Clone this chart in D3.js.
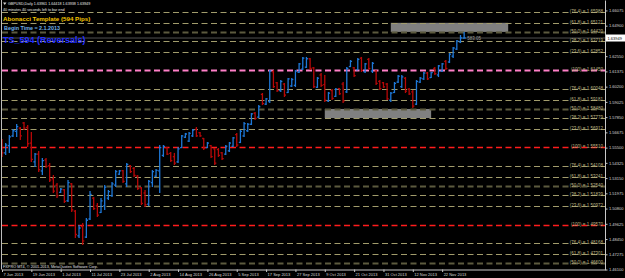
<!DOCTYPE html>
<html>
<head>
<meta charset="utf-8">
<title>GBPUSD Daily</title>
<script src="https://cdn.jsdelivr.net/npm/d3@7"></script>
<style>
  html, body { margin: 0; padding: 0; background: #000; }
  svg { display: block; }
  text { font-family: "Liberation Sans", Arial, sans-serif; }
</style>
</head>
<body>
<svg id="mainsvg" width="625" height="278"></svg>
<script>
// daily bars, 7 Jun 2013 .. 2 Dec 2013
const opens = [1.5598,1.5510,1.5565,1.5640,1.5675,1.5700,1.5740,1.5705,1.5585,1.5440,
  1.5500,1.5370,1.5455,1.5410,1.5310,1.5260,1.5205,1.5225,1.5140,1.5270,
  1.5060,1.4870,1.4940,1.4860,1.5000,1.5160,1.5100,1.5050,1.5100,1.5160,
  1.5180,1.5260,1.5345,1.5372,1.5270,1.5410,1.5390,1.5330,1.5240,1.5200,
  1.5115,1.5280,1.5330,1.5370,1.5490,1.5550,1.5505,1.5480,1.5440,1.5550,
  1.5630,1.5600,1.5640,1.5690,1.5665,1.5620,1.5550,1.5565,1.5540,1.5535,
  1.5510,1.5500,1.5525,1.5560,1.5650,1.5590,1.5640,1.5680,1.5730,1.5815,
  1.5785,1.5960,1.5885,1.5905,1.6135,1.6050,1.5990,1.6040,1.5975,1.6025,
  1.6030,1.6130,1.6155,1.6170,1.6235,1.6165,1.6015,1.6110,1.6035,1.5910,
  1.5990,1.5945,1.6005,1.6040,1.5980,1.6175,1.6165,1.6150,1.6240,1.6135,
  1.6230,1.6140,1.6140,1.6060,1.6050,1.6040,1.5915,1.5975,1.6055,1.6020,
  1.6085,1.6000,1.5980,1.5885,1.6055,1.6080,1.6125,1.6090,1.6160,1.6110,
  1.6140,1.6215,1.6210,1.6255,1.6310,1.6365,1.6394];
const highs = [1.5616,1.5585,1.5648,1.5693,1.5732,1.5709,1.5747,1.5724,1.5670,1.5509,
  1.5524,1.5470,1.5470,1.5431,1.5339,1.5277,1.5238,1.5231,1.5300,1.5277,
  1.5069,1.4953,1.4969,1.5007,1.5215,1.5169,1.5123,1.5161,1.5262,1.5223,
  1.5285,1.5377,1.5377,1.5377,1.5431,1.5416,1.5401,1.5339,1.5246,1.5223,
  1.5300,1.5377,1.5385,1.5570,1.5570,1.5555,1.5516,1.5509,1.5555,1.5648,
  1.5663,1.5670,1.5693,1.5709,1.5670,1.5624,1.5593,1.5570,1.5547,1.5547,
  1.5516,1.5570,1.5593,1.5632,1.5663,1.5686,1.5747,1.5740,1.5817,1.5825,
  1.5878,1.5971,1.5932,1.6148,1.6148,1.6056,1.6071,1.6048,1.6087,1.6087,
  1.6148,1.6202,1.6249,1.6249,1.6241,1.6171,1.6094,1.6125,1.6110,1.5979,
  1.6002,1.6010,1.6010,1.6056,1.6171,1.6225,1.6171,1.6241,1.6249,1.6202,
  1.6241,1.6210,1.6148,1.6071,1.6056,1.6048,1.5979,1.6056,1.6110,1.6110,
  1.6094,1.6010,1.5994,1.6071,1.6094,1.6133,1.6133,1.6133,1.6171,1.6187,
  1.6202,1.6225,1.6279,1.6326,1.6380,1.6418,1.6442];
const lows = [1.5478,1.5493,1.5509,1.5632,1.5632,1.5609,1.5686,1.5555,1.5439,1.5401,
  1.5362,1.5339,1.5393,1.5285,1.5200,1.5161,1.5200,1.5123,1.5131,1.5053,
  1.4853,1.4853,1.4799,1.4853,1.4992,1.5069,1.5015,1.5046,1.5069,1.5146,
  1.5169,1.5246,1.5339,1.5277,1.5246,1.5354,1.5323,1.5223,1.5107,1.5092,
  1.5100,1.5246,1.5323,1.5200,1.5478,1.5493,1.5439,1.5416,1.5431,1.5547,
  1.5624,1.5593,1.5632,1.5632,1.5632,1.5532,1.5547,1.5470,1.5416,1.5478,
  1.5454,1.5493,1.5516,1.5555,1.5555,1.5585,1.5632,1.5670,1.5724,1.5763,
  1.5778,1.5878,1.5878,1.5894,1.6010,1.5979,1.5979,1.5940,1.5971,1.6017,
  1.6017,1.6125,1.6148,1.6164,1.6148,1.6010,1.6010,1.6017,1.5902,1.5902,
  1.5917,1.5940,1.5956,1.5894,1.5971,1.6171,1.6094,1.6148,1.6133,1.6125,
  1.6148,1.6125,1.6033,1.5994,1.6010,1.5917,1.5902,1.5971,1.6048,1.6010,
  1.5971,1.5956,1.5855,1.5878,1.6048,1.6071,1.6071,1.6087,1.6110,1.6094,
  1.6133,1.6148,1.6202,1.6241,1.6302,1.6356,1.6394];
const closes = [1.5510,1.5570,1.5632,1.5680,1.5712,1.5640,1.5700,1.5580,1.5460,1.5500,
  1.5380,1.5450,1.5405,1.5300,1.5215,1.5180,1.5230,1.5135,1.5280,1.5070,
  1.4880,1.4930,1.4830,1.4990,1.5190,1.5080,1.5030,1.5140,1.5245,1.5210,
  1.5270,1.5365,1.5370,1.5290,1.5420,1.5365,1.5335,1.5235,1.5120,1.5110,
  1.5290,1.5365,1.5375,1.5550,1.5560,1.5500,1.5450,1.5430,1.5540,1.5640,
  1.5655,1.5660,1.5685,1.5640,1.5640,1.5545,1.5585,1.5480,1.5430,1.5490,
  1.5465,1.5560,1.5585,1.5625,1.5570,1.5675,1.5735,1.5730,1.5810,1.5775,
  1.5865,1.5890,1.5925,1.6140,1.6020,1.5990,1.6060,1.5955,1.6080,1.6075,
  1.6140,1.6195,1.6240,1.6235,1.6160,1.6020,1.6085,1.6030,1.5915,1.5970,
  1.5930,1.6000,1.5965,1.5910,1.6160,1.6215,1.6105,1.6230,1.6145,1.6195,
  1.6160,1.6200,1.6045,1.6005,1.6018,1.5925,1.5970,1.6045,1.6100,1.6095,
  1.5985,1.5965,1.5870,1.6060,1.6085,1.6125,1.6080,1.6128,1.6120,1.6180,
  1.6195,1.6160,1.6270,1.6318,1.6372,1.6396,1.6395];

const dateLabels = ['7 Jun 2013','19 Jun 2013','1 Jul 2013','11 Jul 2013','23 Jul 2013','2 Aug 2013',
  '14 Aug 2013','26 Aug 2013','5 Sep 2013','17 Sep 2013','27 Sep 2013','9 Oct 2013',
  '21 Oct 2013','31 Oct 2013','12 Nov 2013','22 Nov 2013'];
const priceTicks = [1.66075,1.64900,1.63725,1.62550,1.61375,1.60200,1.59025,1.57850,1.56675,
  1.55500,1.54325,1.53150,1.51975,1.50800,1.49625,1.48450,1.47275,1.46100];

// fibonacci template: (100) levels every 594 pips, ratios in between
const rangePips = 594;
const baseLevels = [1.6145, 1.5551, 1.4957, 1.4363];
const baseColors = ['#ff80c8', '#ff1c1c', '#ff1c1c', '#ff1c1c'];
const fibRatios = [23.6, 38.2, 50.0, 61.8, 76.4];

// grey zones (bar index from/to, price low/high)
const zoneFrom = [106, 88];
const zoneTo = [138, 117];
const zoneLow = [1.6442, 1.5778];
const zoneHigh = [1.6512, 1.5848];

const bidPrice = 1.63949;
const headerText = 'GBPUSD,Daily  1.63961 1.64418 1.63938 1.63949';

let svg = d3.select('#mainsvg');
const W = 625, H = 278;
const plotL = 2, plotR = 605, plotT = 0, plotB = 269.5;

svg.append('rect').attr('width', W).attr('height', H).attr('fill', '#000');

let x = d3.scaleLinear().domain([0, 164.4]).range([plotL, plotR]);
let y = d3.scaleLinear().domain([1.46102, 1.6688]).range([plotB, plotT]);

svg.append('clipPath').attr('id', 'plot')
  .append('rect').attr('x', plotL).attr('y', plotT).attr('width', plotR - plotL).attr('height', plotB - plotT);
let plot = svg.append('g').attr('clip-path', 'url(#plot)');

// zones
plot.selectAll('rect.zone').data(zoneFrom).join('rect')
  .attr('class', 'zone')
  .attr('x', (d, i) => x(d))
  .attr('width', (d, i) => x(zoneTo[i]) - x(d))
  .attr('y', (d, i) => y(zoneHigh[i]))
  .attr('height', (d, i) => y(zoneLow[i]) - y(zoneHigh[i]))
  .attr('fill', '#808080');

// fib lines
let levels = [];
baseLevels.forEach((b, k) => {
  levels.push({ v: b, label: '(100)', color: baseColors[k], w: k == 0 ? 2 : 1.3 });
  fibRatios.forEach(r => {
    levels.push({ v: b + r / 100 * rangePips / 10000, label: '(' + r.toFixed(1) + ')',
      color: r == 50 ? '#5c5a3e' : '#a29c6c', w: r == 50 ? 1.8 : 1 });
  });
});
let [yLo, yHi] = y.domain();
let lineLevels = levels.filter(d => d.v > yLo - 0.003 && d.v < yHi);
let labelLevels = levels.filter(d => d.v > yLo + 0.002 && d.v < yHi);

plot.selectAll('line.fib').data(lineLevels).join('line')
  .attr('class', 'fib')
  .attr('x1', plotL).attr('x2', plotR)
  .attr('y1', d => Math.round(y(d.v)) + 0.5).attr('y2', d => Math.round(y(d.v)) + 0.5)
  .attr('stroke', d => d.color)
  .attr('stroke-width', d => d.w)
  .attr('stroke-dasharray', '6,3.5');

plot.selectAll('text.fib').data(labelLevels).join('text')
  .attr('class', 'fib')
  .attr('x', 603)
  .attr('y', d => Math.round(y(d.v)) + 0.8)
  .attr('text-anchor', 'end')
  .attr('font-size', 4.5)
  .attr('fill', '#bdb685')
  .text(d => d.label + ' = ' + d.v.toFixed(5));

// bid line
plot.append('line')
  .attr('x1', plotL).attr('x2', plotR)
  .attr('y1', y(bidPrice)).attr('y2', y(bidPrice))
  .attr('stroke', '#8a8a8a').attr('stroke-width', 0.6);
plot.append('text').attr('x', x(126) + 3).attr('y', y(bidPrice) + 2)
  .attr('font-size', 4.5).attr('fill', '#9a9a9a').text('583.05');

// OHLC bars
let bars = plot.selectAll('g.bar').data(opens).join('g')
  .attr('class', 'bar')
  .attr('stroke', (d, i) => closes[i] >= d ? '#1e78d8' : '#b80808')
  .attr('stroke-width', 1.3);
bars.append('line')
  .attr('x1', (d, i) => x(i)).attr('x2', (d, i) => x(i))
  .attr('y1', (d, i) => y(highs[i])).attr('y2', (d, i) => y(lows[i]));
bars.append('line')
  .attr('x1', (d, i) => x(i) - 1.6).attr('x2', (d, i) => x(i))
  .attr('y1', d => y(d)).attr('y2', d => y(d));
bars.append('line')
  .attr('x1', (d, i) => x(i)).attr('x2', (d, i) => x(i) + 1.6)
  .attr('y1', (d, i) => y(closes[i])).attr('y2', (d, i) => y(closes[i]));

// left border
svg.append('line').attr('x1', 1.5).attr('x2', 1.5).attr('y1', 0).attr('y2', plotB)
  .attr('stroke', '#bcbcbc').attr('stroke-width', 1);

// price axis (the tick under the current price box is covered)
let yAxis = svg.append('g').attr('transform', `translate(${plotR},0)`)
  .call(d3.axisRight(y).tickValues(priceTicks.filter(v => Math.abs(y(v) - y(bidPrice)) > 6))
    .tickFormat(d3.format('.5f')).tickSize(2.5).tickSizeOuter(0).tickPadding(1.5));
yAxis.select('.domain').attr('stroke', '#c8c8c8');
yAxis.selectAll('.tick line').attr('stroke', '#c8c8c8');
yAxis.selectAll('.tick text').attr('fill', '#d8d8d8').attr('font-size', 4).attr('font-family', null);

// current price box
svg.append('rect').attr('x', plotR + 1).attr('y', y(bidPrice) - 3.5)
  .attr('width', 19).attr('height', 7).attr('fill', '#fff');
svg.append('text').attr('x', plotR + 2.5).attr('y', y(bidPrice) + 1.5)
  .attr('font-size', 4).attr('fill', '#000').text(bidPrice.toFixed(5));

// date axis
let xAxis = svg.append('g').attr('transform', `translate(0,${plotB})`)
  .call(d3.axisBottom(x).tickValues(dateLabels.map((d, i) => i * 8))
    .tickFormat((d, i) => dateLabels[i]).tickSize(2.5).tickSizeOuter(0).tickPadding(1));
xAxis.select('.domain').attr('stroke', '#c8c8c8');
xAxis.selectAll('.tick line').attr('stroke', '#c8c8c8');
xAxis.selectAll('.tick text').attr('fill', '#d8d8d8').attr('font-size', 4)
  .attr('text-anchor', 'start').attr('dx', 1).attr('font-family', null);

// texts
svg.append('text').attr('x', 8).attr('y', 5).attr('font-size', 3.7).attr('fill', '#e8e8e8').text(headerText);
svg.append('path').attr('d', 'M3,2.5 L6.5,2.5 L4.75,5 Z').attr('fill', '#d0d0d0');
svg.append('text').attr('x', 3).attr('y', 11).attr('font-size', 3.7).attr('fill', '#e8e8e8')
  .text('40 minutes 40 seconds left to bar end');
svg.append('text').attr('x', 3).attr('y', 21).attr('font-size', 6.2).attr('font-weight', 'bold')
  .attr('fill', '#f4c400').text('Abonacci Template (594 Pips)');
svg.append('text').attr('x', 4).attr('y', 30).attr('font-size', 5.4).attr('font-weight', 'bold')
  .attr('fill', '#70b0e8').text('Begin Time = 2.1.2013');
svg.append('text').attr('x', 3).attr('y', 42.5).attr('font-size', 9).attr('font-weight', 'bold')
  .attr('fill', '#2430ff').text('TS_594 (Reversals)');
svg.append('text').attr('x', 3).attr('y', 267.5).attr('font-size', 3.8).attr('fill', '#e0e0e0')
  .text('FXPRO MT4, \u00a9 2001-2013, MetaQuotes Software Corp.');
</script>
</body>
</html>
